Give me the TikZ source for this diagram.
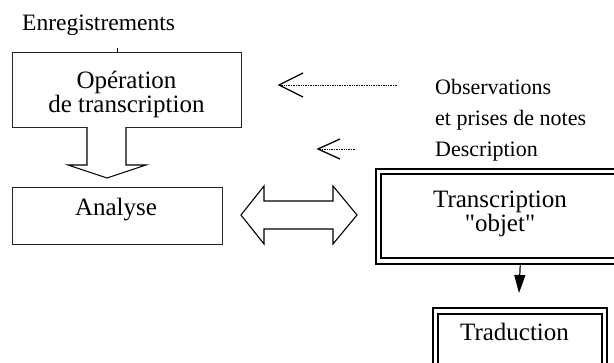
\documentclass[tikz,border=0pt]{standalone}
\usepackage{fontspec}
\setmainfont{Liberation Serif}
\newfontfamily\rawserif{Liberation Serif}
\usetikzlibrary{arrows.meta}
\begin{document}
\begin{tikzpicture}[x=1pt,y=-1pt,
  plainbox/.style={draw=black!85, line width=0.9pt, inner sep=0pt, anchor=north west},
  thickbox/.style={draw, line width=2.4pt, inner sep=0pt, anchor=north west},
  thinbox/.style={draw, line width=1.6pt, inner sep=0pt, anchor=north west},
  bigtxt/.style={inner sep=0pt, anchor=base, font=\fontsize{25}{25}\selectfont},
  twoline/.style={inner sep=0pt, anchor=north, align=center, font=\fontsize{25}{22}\selectfont},
  smalltxt/.style={inner sep=0pt, anchor=base west, font=\fontsize{22}{22}\selectfont},
  blockarrow/.style={draw, line width=1.1pt, line join=miter, fill=white},
  dotline/.style={line width=0.7pt, dash pattern=on 0.7pt off 1pt},
  barb/.style={line width=1.3pt, line join=miter}]
\useasboundingbox (0,0) rectangle (614,362);
\clip (0,0) rectangle (614,362);
\fill[white] (0,0) rectangle (614,362);

% top label
\node[smalltxt, font=\fontsize{23.5}{23.5}\selectfont] (enr) at (22,30) {Enregistrements};

% Operation box
\node[plainbox, minimum width=229pt, minimum height=75pt] (op) at (12,52) {};
\node[twoline] (optxt) at (126.5,71) {Opération\\de transcription};
\coordinate (tick) at (117,48);
\draw[line width=0.8pt] (tick) -- (tick |- op.north);

% Analyse box
\node[plainbox, minimum width=210pt, minimum height=57pt] (an) at (12,187) {};
\node[bigtxt] (antxt) at (116,215) {Analyse};

% block arrow down
\draw[blockarrow] (87,127) -- (87,165) -- (68,165) -- (107,178) -- (146,165) -- (126,165) -- (126,127);

% double block arrow
\draw[blockarrow] (241,215) -- (264,186) -- (264,201) -- (333,201) -- (333,186) -- (357,215)
  -- (333,244) -- (333,229) -- (264,229) -- (264,244) -- cycle;

% Transcription objet box (double border)
\node[thickbox, minimum width=250pt, minimum height=95pt] (tout) at (375,168) {};
\node[thinbox, minimum width=240pt, minimum height=84pt] (tin) at (380,173) {};
\node[twoline] (trtxt) at (500,191) {Transcription\\{\rawserif"}objet{\rawserif"}};

% Traduction box (double border)
\node[thinbox, minimum width=174pt, minimum height=70pt] (dout) at (432,307) {};
\node[thickbox, minimum width=164pt, minimum height=60pt] (din) at (437,313) {};
\node[bigtxt] (dtxt) at (514.5,340) {Traduction};

% small arrow between
\coordinate (arrtip) at (519,293);
\draw[line width=1.2pt, -{Triangle[length=18pt,width=11pt]}] (tout.south -| din.north) -- (arrtip);

% side notes
\node[smalltxt] (obs1) at (435,94) {Observations};
\node[smalltxt] (obs2) at (435,125) {et prises de notes};
\node[smalltxt] (desc) at (435,156) {Description};

% dotted arrows
\coordinate (d1s) at (397,85);
\coordinate (d1t) at (279,85);
\draw[dotline] (d1s) -- (d1t);
\draw[barb] (303,73) -- (d1t) -- (303,97);
\coordinate (d2s) at (355,149);
\coordinate (d2t) at (318,149);
\draw[dotline] (d2s) -- (d2t);
\draw[barb] (340,139) -- (d2t) -- (340,159);
\end{tikzpicture}
\end{document}
